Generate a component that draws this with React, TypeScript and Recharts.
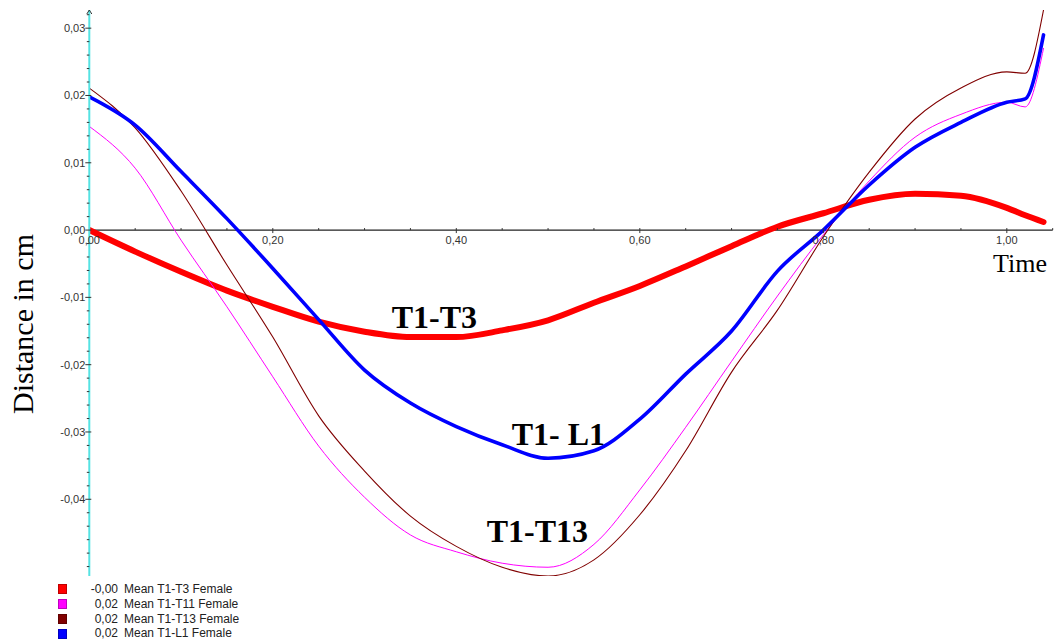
import React from 'react';
import { LineChart, Line, XAxis, YAxis, ReferenceLine, ReferenceDot, Label } from 'recharts';

// Sample times (s)
const TIME = [0, 0.05, 0.1, 0.15, 0.2, 0.25, 0.3, 0.35, 0.4, 0.45, 0.5, 0.55, 0.6, 0.65, 0.7, 0.75, 0.8, 0.85, 0.9, 0.95, 1.0, 1.02, 1.04];

// Mean distances (cm), female group
const T1_T3 = [0, -0.0032, -0.0062, -0.009, -0.0114, -0.0136, -0.0151, -0.0159, -0.0159, -0.0149, -0.0134, -0.0108, -0.0083, -0.0054, -0.0024, 0.0005, 0.0025, 0.0045, 0.0054, 0.0051, 0.0033, 0.0022, 0.0012];
const T1_T11 = [0.0154, 0.0092, -0.0015, -0.0114, -0.0218, -0.0321, -0.0397, -0.0453, -0.0478, -0.0495, -0.0501, -0.0467, -0.0386, -0.0293, -0.0195, -0.0098, -0.0007, 0.0073, 0.0138, 0.0172, 0.019, 0.0183, 0.027];
const T1_T13 = [0.0211, 0.0152, 0.0058, -0.0052, -0.0159, -0.0276, -0.0358, -0.0425, -0.047, -0.0501, -0.0514, -0.049, -0.0423, -0.0328, -0.0211, -0.0119, -0.001, 0.0086, 0.0165, 0.0211, 0.0235, 0.0233, 0.0327];
const T1_L1 = [0.0198, 0.0156, 0.0087, 0.0017, -0.0057, -0.0133, -0.0208, -0.0257, -0.0292, -0.0319, -0.0339, -0.0328, -0.0281, -0.0214, -0.015, -0.0061, 0, 0.0067, 0.0123, 0.016, 0.019, 0.0195, 0.029];

// Legend values shown before each series name
const LEGEND_VALUES = ['-0,00', '0,02', '0,02', '0,02'];
const SERIES_NAMES = ['Mean T1-T3 Female', 'Mean T1-T11 Female', 'Mean T1-T13 Female', 'Mean T1-L1 Female'];

// Axis ticks
const X_TICKS = [0, 0.05, 0.1, 0.15, 0.2, 0.25, 0.3, 0.35, 0.4, 0.45, 0.5, 0.55, 0.6, 0.65, 0.7, 0.75, 0.8, 0.85, 0.9, 0.95, 1.0, 1.05];
const X_LABELED = [0, 0.2, 0.4, 0.6, 0.8, 1.0];
const Y_LABELED = [-0.04, -0.03, -0.02, -0.01, 0, 0.01, 0.02, 0.03];
const Y_MINOR_STEP = 0.002;

// In-plot curve annotations (anchored at the text's left baseline)
const ANNOTATIONS = [
  { text: 'T1-T3', t: 0.3296, v: -0.0146 },
  { text: 'T1- L1', t: 0.4604, v: -0.0319 },
  { text: 'T1-T13', t: 0.4331, v: -0.0464 },
];

const X_DOMAIN: [number, number] = [0, 1.05];
const Y_MIN = -0.0514;
const Y_MAX = 0.0327;

const W = 1056;
const H = 642;
const X_AXIS_H = 1;
const MARGIN = { top: 10, right: 3.3, bottom: 65, left: 29.3 };
const Y_AXIS_W = 60;
const PLOT_H = H - MARGIN.top - MARGIN.bottom - X_AXIS_H;
const ZERO_Y = MARGIN.top + (PLOT_H * Y_MAX) / (Y_MAX - Y_MIN);

const SANS = '"Liberation Sans", Arial, sans-serif';
const SERIF = '"Liberation Serif", "Times New Roman", serif';
const TICK_COLOR = '#333';

const SERIES = [
  { key: 't1t3', values: T1_T3, color: '#ff0000', width: 6 },
  { key: 't1t11', values: T1_T11, color: '#ff00ff', width: 1 },
  { key: 't1t13', values: T1_T13, color: '#800000', width: 1.1 },
  { key: 't1l1', values: T1_L1, color: '#0000ff', width: 3.6 },
];

const data = TIME.map((t, i) => {
  const row: Record<string, number> = { t };
  SERIES.forEach((s) => {
    row[s.key] = s.values[i];
  });
  return row;
});

const yTicks: number[] = [];
for (let i = Math.ceil(Y_MIN / Y_MINOR_STEP); i * Y_MINOR_STEP <= Y_MAX; i++) {
  yTicks.push(Number((i * Y_MINOR_STEP).toFixed(3)));
}

const fmt = (v: number) => (Math.abs(v) < 1e-9 ? 0 : v).toFixed(2).replace('.', ',');
const isIn = (list: number[], v: number) => list.some((l) => Math.abs(l - v) < 1e-6);

const XTick = (props: any) => {
  const { x, payload } = props;
  const v = payload.value as number;
  const major = isIn(X_LABELED, v);
  return (
    <g>
      {v > 0 && (
        <line x1={x} x2={x} y1={ZERO_Y - 2} y2={ZERO_Y + (major ? 3 : 0)} stroke={TICK_COLOR} strokeWidth={1} />
      )}
      {major && (
        <text x={x} y={ZERO_Y + 14} textAnchor="middle" fontSize={11} fontFamily={SANS} fill={TICK_COLOR}>
          {fmt(v)}
        </text>
      )}
    </g>
  );
};

const YTick = (props: any) => {
  const { x, y, payload } = props;
  const v = payload.value as number;
  const major = isIn(Y_LABELED, v);
  return (
    <g>
      <line x1={x - (major ? 4 : 2.5)} x2={x + (major ? 2 : 0)} y1={y} y2={y} stroke={TICK_COLOR} strokeWidth={1} />
      {major && (
        <text x={x - 4} y={y} dy="0.35em" textAnchor="end" fontSize={11} fontFamily={SANS} fill={TICK_COLOR}>
          {fmt(v)}
        </text>
      )}
    </g>
  );
};

const YTitle = (props: any) => {
  const vb = props.viewBox || { x: 0, y: 0, width: 0, height: 0 };
  const cx = vb.x + 4;
  const cy = vb.y + vb.height / 2 + 31;
  return (
    <text
      x={cx}
      y={cy}
      transform={`rotate(-90 ${cx} ${cy})`}
      textAnchor="middle"
      fontSize={30}
      fontFamily={SERIF}
      fill="#000"
    >
      Distance in cm
    </text>
  );
};

const XTitle = (props: any) => {
  const vb = props.viewBox || { x: 0, y: 0, width: 0, height: 0 };
  return (
    <text x={vb.x + vb.width - 5.7} y={ZERO_Y + 42} textAnchor="end" fontSize={26} fontFamily={SERIF} fill="#000">
      Time
    </text>
  );
};

const AxisArrow = (props: any) => {
  const { cx, cy } = props;
  return <path d={`M ${cx - 2.5} ${cy + 4} L ${cx} ${cy} L ${cx + 2.5} ${cy + 4}`} fill="none" stroke={TICK_COLOR} strokeWidth={1} />;
};

const makeAnnotation = (text: string) => (props: any) => (
  <text x={props.cx} y={props.cy} fontSize={32} fontWeight="bold" fontFamily={SERIF} fill="#000">
    {text}
  </text>
);

const legendStyle: React.CSSProperties = {
  position: 'absolute',
  left: 58,
  top: 582,
  fontFamily: SANS,
  fontSize: 12,
  color: '#222',
  lineHeight: '14.8px',
};

export default function App() {
  return (
    <div style={{ position: 'absolute', left: 0, top: 0, width: W, height: H, background: '#fff' }}>
      <LineChart width={W} height={H} data={data} margin={MARGIN}>
        <XAxis
          dataKey="t"
          type="number"
          domain={X_DOMAIN}
          ticks={X_TICKS}
          interval={0}
          height={X_AXIS_H}
          axisLine={false}
          tickLine={false}
          tickSize={0}
          tickMargin={0}
          tick={<XTick />}
          allowDataOverflow
        >
          <Label content={<XTitle />} />
        </XAxis>
        <YAxis
          type="number"
          domain={[Y_MIN, Y_MAX]}
          ticks={yTicks}
          interval={0}
          width={Y_AXIS_W}
          axisLine={{ stroke: '#55e3e3', strokeWidth: 2 }}
          tickLine={false}
          tickSize={0}
          tickMargin={0}
          tick={<YTick />}
          allowDataOverflow
        >
          <Label content={<YTitle />} />
        </YAxis>
        <ReferenceLine y={0} stroke="#222" strokeWidth={1.3} ifOverflow="visible" />
        <ReferenceDot x={0} y={Y_MAX} r={0} ifOverflow="visible" shape={<AxisArrow />} />
        {SERIES.map((s) => (
          <Line
            key={s.key}
            type="monotone"
            dataKey={s.key}
            stroke={s.color}
            strokeWidth={s.width}
            strokeLinejoin="round"
            strokeLinecap="round"
            dot={false}
            activeDot={false}
            isAnimationActive={false}
          />
        ))}
        {ANNOTATIONS.map((a) => (
          <ReferenceDot key={a.text} x={a.t} y={a.v} r={0} ifOverflow="visible" shape={makeAnnotation(a.text)} />
        ))}
      </LineChart>
      <div style={legendStyle}>
        {SERIES.map((s, i) => (
          <div key={s.key} style={{ display: 'flex', alignItems: 'center', height: 14.8, whiteSpace: 'nowrap' }}>
            <span style={{ display: 'inline-block', width: 9, height: 10, background: s.color, boxShadow: 'inset 0 0 0 1px rgba(0,0,0,0.25)' }} />
            <span style={{ display: 'inline-block', width: 51, textAlign: 'right' }}>{LEGEND_VALUES[i]}</span>
            <span style={{ marginLeft: 6 }}>{SERIES_NAMES[i]}</span>
          </div>
        ))}
      </div>
    </div>
  );
}
